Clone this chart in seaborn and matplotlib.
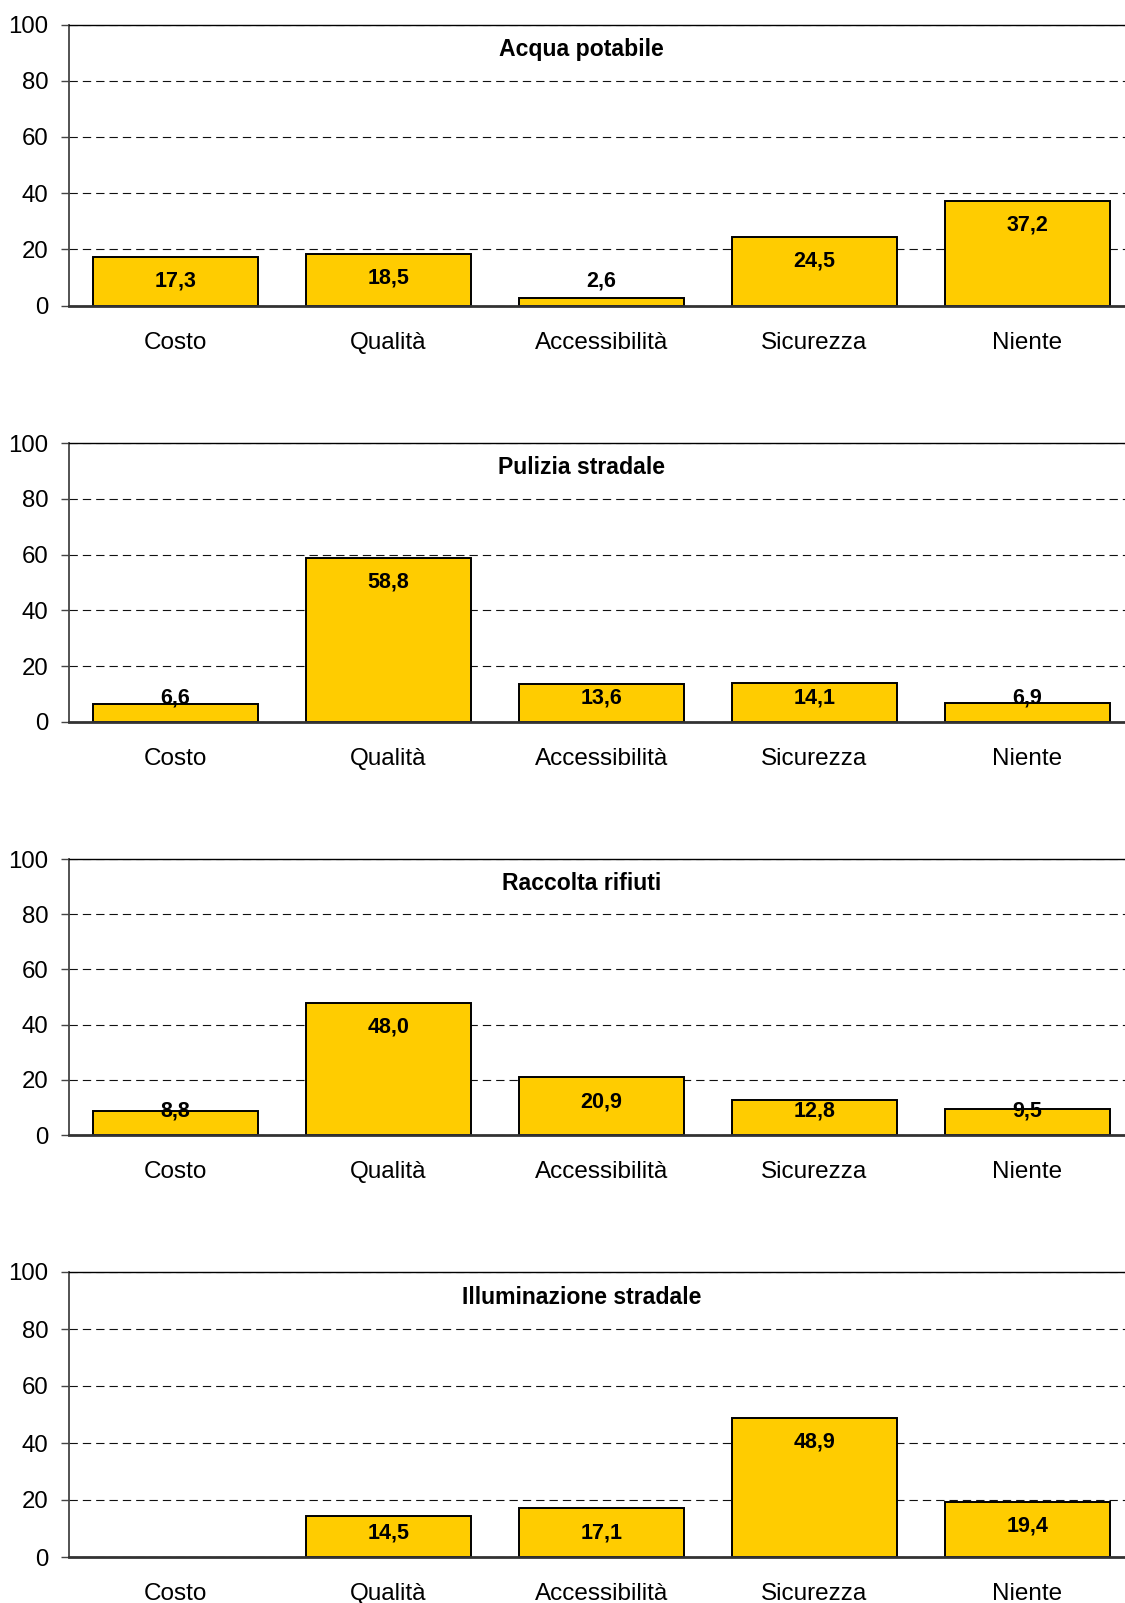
import numpy as np
import pandas as pd
import matplotlib
matplotlib.use("Agg")
import matplotlib.pyplot as plt
import seaborn as sns

# Categories and percentages for each service
categories = ["Costo", "Qualità", "Accessibilità", "Sicurezza", "Niente"]
titles = ["Acqua potabile", "Pulizia stradale", "Raccolta rifiuti", "Illuminazione stradale"]
acqua_potabile = [17.3, 18.5, 2.6, 24.5, 37.2]
pulizia_stradale = [6.6, 58.8, 13.6, 14.1, 6.9]
raccolta_rifiuti = [8.8, 48.0, 20.9, 12.8, 9.5]
illuminazione_stradale = [np.nan, 14.5, 17.1, 48.9, 19.4]
y_ticks = [0, 20, 40, 60, 80, 100]

series = [acqua_potabile, pulizia_stradale, raccolta_rifiuti, illuminazione_stradale]

sns.set_theme(style="white")
plt.rcParams["font.family"] = ["Liberation Sans", "DejaVu Sans"]
plt.rcParams["lines.scale_dashes"] = False

W, H = 1125, 1603
fig = plt.figure(figsize=(W / 100, H / 100), dpi=100)

# vertical extent (pixels from top) of each panel's plotting area
panels = [(24.5, 305.5), (443, 722), (859, 1135), (1272, 1557)]
left_px, width_px = 69, 1065

for title, values, (top, bottom) in zip(titles, series, panels):
    ax = fig.add_axes([left_px / W, 1 - bottom / H, width_px / W, (bottom - top) / H])
    df = pd.DataFrame({"voce": categories, "valore": values}).dropna()
    sns.barplot(data=df, x="voce", y="valore", order=categories, ax=ax,
                color="#FFCC00", saturation=1, edgecolor="black",
                linewidth=1.4, width=0.775, zorder=2)

    ax.set_ylim(0, 100)
    ax.set_xlim(-0.5, len(categories) - 0.5)
    ax.set_yticks(y_ticks)
    ax.set_xlabel("")
    ax.set_ylabel("")

    ax.set_axisbelow(True)
    ax.yaxis.grid(True, linestyle=(0, (6, 3.6)), color="#111111", linewidth=0.8)
    ax.xaxis.grid(False)

    ax.spines["right"].set_visible(False)
    ax.spines["top"].set_color("black")
    ax.spines["top"].set_linewidth(1.0)
    ax.spines["left"].set_color("#444444")
    ax.spines["left"].set_linewidth(1.3)
    ax.spines["bottom"].set_color("#333333")
    ax.spines["bottom"].set_linewidth(2.0)

    ax.tick_params(axis="y", left=True, length=5.8, width=1.0, color="#444444",
                   pad=9.0, labelsize=17.3, labelcolor="black")
    ax.tick_params(axis="x", bottom=False, length=0, pad=31, labelsize=17.5,
                   labelcolor="black")
    # category names share a common baseline
    for lab in ax.get_xticklabels():
        lab.set_verticalalignment("baseline")

    # value labels: inside the top of each bar, kept above the baseline for short bars
    ppu = (bottom - top) / 100.0
    for i, v in enumerate(values):
        if np.isnan(v):
            continue
        y_lab = max(v - 30.0 / ppu, 18.5 / ppu)
        ax.text(i, y_lab, f"{v:.1f}".replace(".", ","), ha="center", va="baseline",
                fontsize=15.5, fontweight="bold", color="black", zorder=5)

    ax.annotate(title, xy=(0.481, 1.0), xycoords="axes fraction",
                xytext=(0, -31.5 * 0.72), textcoords="offset points",
                ha="center", va="baseline", fontsize=16.6, fontweight="bold",
                color="black")

fig.savefig("out.png", dpi=100)
